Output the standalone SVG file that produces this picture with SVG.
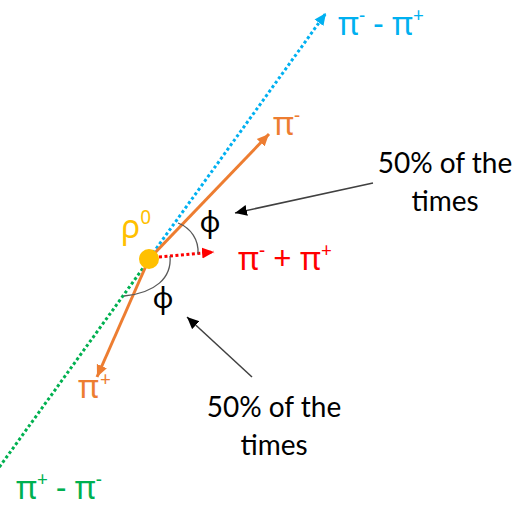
<svg xmlns="http://www.w3.org/2000/svg" width="518" height="506" viewBox="0 0 518 506">
<style>
.t{font-family:Lato,"Liberation Sans",sans-serif;font-size:28px;fill:#000;text-anchor:middle}
.g{font-family:"Noto Sans","DejaVu Sans",sans-serif;font-size:32px}
.s{font-size:19px}
.ph{font-family:"Noto Sans","DejaVu Sans",sans-serif;font-size:29px;fill:#000;text-anchor:middle}
.dot{stroke-width:3;stroke-dasharray:3 2.5;fill:none}
.arc{fill:none;stroke:#595959;stroke-width:1.3}
.call{fill:none;stroke:#404040;stroke-width:1.5}
</style>
<defs>
<marker id="mb" markerUnits="userSpaceOnUse" markerWidth="12" markerHeight="12" refX="11" refY="5" orient="auto" viewBox="0 0 11 10"><path d="M0,0 L11,5 L0,10 z" fill="#00B0F0"/></marker>
<marker id="mo" markerUnits="userSpaceOnUse" markerWidth="12" markerHeight="12" refX="11" refY="5" orient="auto" viewBox="0 0 11 10"><path d="M0,0 L11,5 L0,10 z" fill="#ED7D31"/></marker>
<marker id="mr" markerUnits="userSpaceOnUse" markerWidth="12" markerHeight="12" refX="11" refY="5" orient="auto" viewBox="0 0 11 10"><path d="M0,0 L11,5 L0,10 z" fill="#FF0000"/></marker>
<marker id="mk" markerUnits="userSpaceOnUse" markerWidth="12" markerHeight="12" refX="11" refY="5" orient="auto" viewBox="0 0 11 10"><path d="M0,0 L11,5 L0,10 z" fill="#000"/></marker>
</defs>
<g id="connectors">
<line x1="146" y1="264" x2="-2" y2="469" class="dot" stroke="#00B050"/>
<line x1="153" y1="253" x2="326" y2="13" class="dot" stroke="#00B0F0" marker-end="url(#mb)"/>
<line x1="149" y1="259" x2="269" y2="134" stroke="#ED7D31" stroke-width="3" marker-end="url(#mo)"/>
<line x1="149" y1="259" x2="97" y2="377" stroke="#ED7D31" stroke-width="3" marker-end="url(#mo)"/>
<line x1="159" y1="257" x2="214" y2="252" class="dot" stroke="#FF0000" marker-end="url(#mr)"/>
<path d="M178,223 C191,228 199,240 198,254" class="arc"/>
<path d="M170,256 C172,278 155,293 124,296" class="arc"/>
<line x1="373" y1="183" x2="235" y2="213" class="call" marker-end="url(#mk)"/>
<line x1="252" y1="377" x2="187" y2="317" class="call" marker-end="url(#mk)"/>
</g>
<g id="rho">
<circle cx="149" cy="259" r="10" fill="#FFC000"/>
<text x="121" y="238" class="g" fill="#FFC000">ρ<tspan class="s" dy="-14">0</tspan></text>
</g>
<g id="pi-minus-pi-plus"><text x="338" y="35" class="g" fill="#00B0F0">π<tspan class="s" dy="-13">-</tspan><tspan dy="13"> - π</tspan><tspan class="s" dy="-13">+</tspan></text></g>
<g id="pi-minus"><text x="273" y="135" class="g" fill="#ED7D31">π<tspan class="s" dy="-13">-</tspan></text></g>
<g id="pi-plus"><text x="78" y="398" class="g" fill="#ED7D31">π<tspan class="s" dx="1" dy="-12">+</tspan></text></g>
<g id="pi-sum"><text x="238" y="270" class="g" fill="#FF0000">π<tspan class="s" dy="-13">-</tspan><tspan dy="13"> + π</tspan><tspan class="s" dy="-13">+</tspan></text></g>
<g id="pi-plus-pi-minus"><text x="16" y="499" class="g" fill="#00B050">π<tspan class="s" dy="-13">+</tspan><tspan dy="13"> - π</tspan><tspan class="s" dy="-13">-</tspan></text></g>
<g id="phi-upper"><text x="210" y="232" class="ph">ϕ</text></g>
<g id="phi-lower"><text x="163" y="308" class="ph">ϕ</text></g>
<g id="note-upper"><text class="t" x="445" y="173">50% of the</text><text class="t" x="445" y="211">times</text></g>
<g id="note-lower"><text class="t" x="274" y="417">50% of the</text><text class="t" x="274" y="455">times</text></g>
</svg>
